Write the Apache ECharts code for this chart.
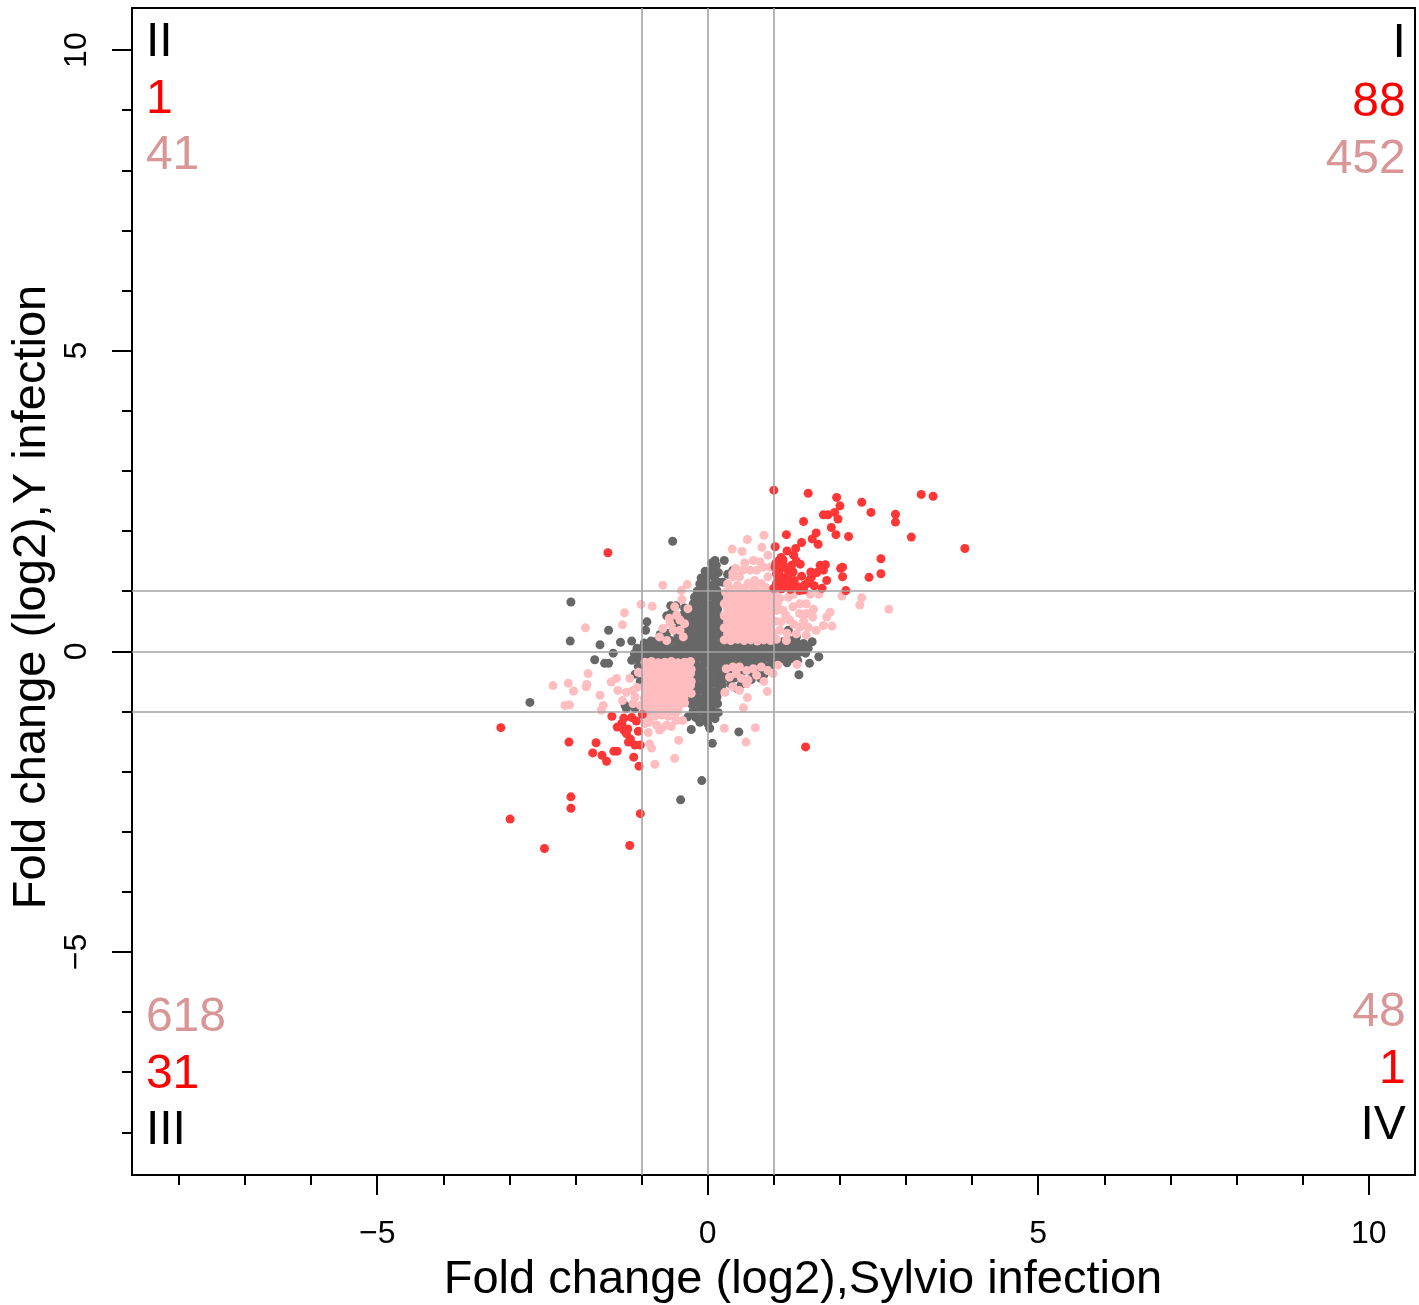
<!DOCTYPE html>
<html>
<head>
<meta charset="utf-8">
<script src="https://cdn.jsdelivr.net/npm/echarts@6/dist/echarts.min.js"></script>
<style>
html,body{margin:0;padding:0;background:#fff}
#chart{width:1419px;height:1305px}
</style>
</head>
<body>
<div id="chart"></div>
<script>
// Axis ranges and ticks (log2 fold change)
const xRange = [-8.71, 10.70];
const yRange = [-8.71, 10.70];
const xMajorTicks = [-5, 0, 5, 10];
const yMajorTicks = [-5, 0, 5, 10];
const xMinorTicks = [-8,-7,-6,-5,-4,-3,-2,-1,0,1,2,3,4,5,6,7,8,9,10];
const yMinorTicks = [-8,-7,-6,-5,-4,-3,-2,-1,0,1,2,3,4,5,6,7,8,9,10];
const cutoffs = [-1, 0, 1];

const xTitle = 'Fold change (log2),Sylvio infection';
const yTitle = 'Fold change (log2),Y infection';

// Genes that are not significant in either infection
const grayPoints = [
  [0.06,1.47],[0.13,1.43],
  [-0.04,1.33],[0.07,1.36],[0.16,1.31],
  [-0.1,1.22],[0.0,1.25],[0.1,1.23],
  [-0.12,1.12],[-0.02,1.14],[0.08,1.11],[0.17,1.15],
  [-0.16,1.0],[-0.06,1.03],[0.04,1.02],[0.14,1.01],
  [-0.2,0.9],[-0.1,0.92],[0.0,0.91],[0.1,0.9],[0.19,0.93],
  [-0.22,0.79],[-0.12,0.81],[-0.02,0.8],[0.08,0.79],[0.18,0.81],
  [-0.25,0.68],[-0.15,0.7],[-0.05,0.69],[0.05,0.68],[0.15,0.7],
  [-0.28,0.57],[-0.18,0.59],[-0.08,0.58],[0.02,0.57],[0.12,0.59],[0.2,0.56],
  [-0.32,0.46],[-0.22,0.48],[-0.12,0.47],[-0.02,0.46],[0.08,0.48],[0.18,0.47],
  [-0.38,0.35],[-0.28,0.37],[-0.18,0.36],[-0.08,0.35],[0.02,0.37],[0.12,0.36],[0.21,0.34],
  [-0.45,0.26],[-0.35,0.27],[-0.25,0.25],[-0.15,0.24],[-0.05,0.26],[0.05,0.25],[0.15,0.24],[0.24,0.26],
  [-0.96,0.14],[-0.86,0.17],[-0.76,0.18],[-0.66,0.16],[-0.56,0.18],[-0.46,0.17],[-0.36,0.16],[-0.26,0.18],[-0.16,0.16],[-0.06,0.17],[0.04,0.16],[0.14,0.18],[0.24,0.16],[0.34,0.15],[0.44,0.16],[0.54,0.15],[0.64,0.16],[0.74,0.15],[0.84,0.16],[0.94,0.15],[1.04,0.17],[1.14,0.16],[1.24,0.18],[1.34,0.16],[1.45,0.13],
  [-1.07,0.05],[-0.98,0.07],[-0.88,0.08],[-0.78,0.06],[-0.68,0.08],[-0.58,0.07],[-0.48,0.06],[-0.38,0.08],[-0.28,0.07],[-0.18,0.06],[-0.08,0.08],[0.02,0.07],[0.12,0.06],[0.22,0.08],[0.32,0.07],[0.42,0.06],[0.52,0.08],[0.62,0.07],[0.72,0.06],[0.82,0.08],[0.92,0.07],[1.02,0.06],[1.12,0.08],[1.22,0.07],[1.32,0.06],[1.42,0.08],[1.52,0.05],
  [-1.11,-0.04],[-1.02,-0.02],[-0.92,-0.03],[-0.82,-0.01],[-0.72,-0.03],[-0.62,-0.02],[-0.52,-0.04],[-0.42,-0.02],[-0.32,-0.03],[-0.22,-0.01],[-0.12,-0.03],[-0.02,-0.02],[0.08,-0.04],[0.18,-0.02],[0.28,-0.03],[0.38,-0.01],[0.48,-0.03],[0.58,-0.02],[0.68,-0.04],[0.78,-0.02],[0.88,-0.03],[0.98,-0.01],[1.08,-0.03],[1.18,-0.02],[1.28,-0.04],[1.38,-0.02],[1.48,-0.03],
  [-1.04,-0.14],[-0.94,-0.12],[-0.84,-0.13],[-0.74,-0.11],[-0.64,-0.13],[-0.54,-0.12],[-0.44,-0.14],[-0.34,-0.12],[-0.24,-0.13],[-0.14,-0.11],[-0.04,-0.13],[0.06,-0.12],[0.16,-0.14],[0.26,-0.12],[0.36,-0.13],[0.46,-0.11],[0.56,-0.13],[0.66,-0.12],[0.76,-0.14],[0.86,-0.12],[0.96,-0.13],[1.06,-0.11],[1.16,-0.13],[1.26,-0.12],[1.36,-0.15],
  [-0.27,-0.22],[-0.17,-0.24],[-0.07,-0.23],[0.03,-0.22],[0.13,-0.24],[0.23,-0.23],[0.33,-0.22],[0.43,-0.24],[0.53,-0.23],[0.63,-0.22],[0.73,-0.24],[0.83,-0.23],[0.93,-0.25],[1.03,-0.2],
  [-0.26,-0.33],[-0.16,-0.32],[-0.06,-0.34],[0.04,-0.33],[0.14,-0.32],[0.24,-0.34],
  [-0.25,-0.44],[-0.15,-0.43],[-0.05,-0.45],[0.05,-0.44],[0.15,-0.43],[0.23,-0.45],
  [-0.26,-0.55],[-0.16,-0.54],[-0.06,-0.56],[0.04,-0.55],[0.14,-0.54],[0.22,-0.56],
  [-0.25,-0.66],[-0.15,-0.65],[-0.05,-0.67],[0.05,-0.66],[0.15,-0.65],
  [-0.26,-0.77],[-0.16,-0.76],[-0.06,-0.78],[0.04,-0.77],[0.14,-0.76],
  [-0.24,-0.88],[-0.14,-0.87],[-0.04,-0.89],[0.06,-0.88],[0.15,-0.87],
  [-0.22,-0.99],[-0.12,-0.98],[-0.02,-1.0],[0.08,-0.99],[0.16,-1.02],
  [-0.3,-1.09],[-0.18,-1.1],[-0.08,-1.11],[0.02,-1.1],[0.11,-1.12],
  [-0.12,-1.18],[0.0,-1.2],
  [0.33,-0.33],[0.43,-0.32],[0.53,-0.34],[0.63,-0.33],[0.73,-0.32],[0.83,-0.3],[0.93,-0.28],
  [0.31,-0.45],[0.41,-0.44],[0.51,-0.55],[0.35,-0.55],[0.66,-0.47],[0.8,-0.45],[0.45,-0.62],
  [-0.42,0.42],[-0.52,0.36],[-0.47,0.52],[-0.38,0.6],[-0.56,0.62],[-0.48,0.76],[-0.35,0.72],[-0.62,0.3],[-0.72,0.28],[-0.3,0.48],
  [-1.15,-0.15],[-1.05,-0.25],[-1.1,-0.38],[-1.02,-0.5],[-1.25,-0.9],[-1.1,-0.95],
  [-0.53,1.83],[-2.07,0.82],[-2.08,0.17],[-1.5,0.35],[-1.63,0.11],[-1.71,-0.14],[-1.56,-0.2],[-1.5,-0.2],
  [-1.43,-0.03],[-1.32,0.15],[-1.15,0.17],[-0.92,0.49],[-0.94,0.35],[-0.56,0.76],[-0.62,0.59],[-0.55,0.52],
  [0.25,1.51],[0.11,1.51],[0.08,1.35],[0.38,1.35],[0.3,1.28],[-0.08,1.15],[0.23,1.15],
  [-2.69,-0.85],[-0.25,-1.3],[0.07,-1.53],[-0.09,-2.15],[-0.41,-2.47],[0.47,-1.34],[0.03,-1.28],[-1.23,-0.95],
  [0.85,-0.39],[1.54,-0.2],[1.68,-0.09],[1.38,-0.39],[1.58,0.16],[1.41,0.0],[1.25,0.07],[1.2,-0.19],
  [1.14,-0.12],[0.84,-0.37],[1.34,0.24],[1.22,0.35],[1.11,-0.12],[1.27,-0.04],[0.94,-0.26]
];

// Genes significant in one infection only
const pinkPoints = [
  [0.25,0.19],[0.35,0.18],[0.45,0.2],[0.55,0.18],[0.65,0.19],[0.75,0.17],[0.85,0.19],[0.95,0.18],
  [0.3,0.29],[0.4,0.3],[0.5,0.28],[0.6,0.29],[0.7,0.3],[0.8,0.28],[0.9,0.29],[0.98,0.3],
  [0.25,0.39],[0.35,0.38],[0.45,0.4],[0.55,0.39],[0.65,0.38],[0.75,0.4],[0.85,0.39],[0.95,0.38],
  [0.3,0.49],[0.4,0.5],[0.5,0.48],[0.6,0.49],[0.7,0.5],[0.8,0.48],[0.9,0.49],[0.98,0.5],
  [0.25,0.59],[0.35,0.58],[0.45,0.6],[0.55,0.59],[0.65,0.58],[0.75,0.6],[0.85,0.59],[0.95,0.58],
  [0.3,0.69],[0.4,0.7],[0.5,0.68],[0.6,0.69],[0.7,0.7],[0.8,0.68],[0.9,0.69],[0.98,0.7],
  [0.25,0.79],[0.35,0.78],[0.45,0.8],[0.55,0.79],[0.65,0.78],[0.75,0.8],[0.85,0.79],[0.95,0.78],
  [0.3,0.89],[0.4,0.9],[0.5,0.88],[0.6,0.89],[0.7,0.9],[0.8,0.88],[0.9,0.89],[0.98,0.9],
  [0.27,0.98],[0.36,0.97],[0.46,0.99],[0.56,0.98],[0.66,0.97],[0.76,0.99],[0.86,0.98],[0.95,0.97],
  [0.85,1.93],[0.6,1.86],[0.37,1.7],[0.52,1.66],[0.82,1.73],[0.91,1.6],[0.56,1.47],[0.69,1.51],
  [0.79,1.49],[0.42,1.38],[0.48,1.24],[0.38,1.24],[0.53,1.35],[0.64,1.35],[0.74,1.35],[0.84,1.4],
  [0.71,1.18],[0.61,1.13],[0.81,1.13],[0.91,1.24],[0.94,1.4],[0.38,1.3],[0.45,1.1],[0.3,1.12],
  [0.55,1.05],[0.7,1.06],[0.88,1.06],[0.33,1.05],
  [1.09,0.88],[1.22,0.9],[1.14,0.68],[1.29,0.74],[1.39,0.63],[1.49,0.79],[1.59,0.57],[1.52,0.4],
  [1.64,0.35],[1.75,0.43],[1.85,0.65],[1.88,0.42],[1.8,0.57],[1.68,0.95],[2.03,0.92],[2.3,0.77],
  [2.33,0.89],[2.74,0.7],[1.39,0.4],[1.24,0.52],[1.11,0.49],[1.34,0.29],[1.49,0.27],[1.19,0.18],
  [1.09,0.35],[1.04,0.68],[1.06,0.79],[1.39,0.79],[1.49,0.63],[1.04,0.2],[1.02,0.5],[1.18,0.6],
  [1.3,0.45],[1.45,0.5],[1.6,0.7],[1.3,0.95],[1.55,0.95],[1.2,0.3],[1.04,0.97],
  [0.28,-0.29],[0.38,-0.26],[0.48,-0.26],[0.59,-0.32],[0.69,-0.29],[0.81,-0.26],[0.91,-0.32],[1.06,-0.23],
  [1.35,-0.22],[0.33,-0.43],[0.43,-0.37],[0.51,-0.45],[0.61,-0.48],[0.74,-0.4],[0.99,-0.37],[0.38,-0.59],
  [0.48,-0.65],[0.59,-0.54],[0.26,-0.68],[0.9,-0.67],[0.6,-0.77],[0.54,-0.94],[0.25,-1.28],[0.72,-1.27],
  [0.58,-1.51],[0.85,-0.5],
  [-0.68,1.1],[-0.31,1.11],[-0.4,1.01],[-0.39,0.86],[-0.3,0.71],[-1.01,0.78],[-0.84,0.75],[-1.26,0.64],
  [-1.29,0.44],[-1.85,0.39],[-0.5,0.74],[-0.47,0.6],[-0.57,0.46],[-0.52,0.35],[-0.42,0.35],[-0.37,0.24],
  [-0.68,0.38],[-0.73,0.24],[-0.62,0.18],[-0.42,0.52],[-0.35,0.46],[-0.58,0.55],
  [-0.95,-0.18],[-0.85,-0.17],[-0.75,-0.19],[-0.65,-0.18],[-0.55,-0.17],[-0.45,-0.19],[-0.35,-0.18],[-0.26,-0.17],
  [-0.92,-0.28],[-0.82,-0.27],[-0.72,-0.29],[-0.62,-0.28],[-0.52,-0.27],[-0.42,-0.29],[-0.32,-0.28],[-0.25,-0.3],
  [-0.96,-0.38],[-0.86,-0.37],[-0.76,-0.39],[-0.66,-0.38],[-0.56,-0.37],[-0.46,-0.39],[-0.36,-0.38],[-0.26,-0.37],
  [-0.92,-0.48],[-0.82,-0.47],[-0.72,-0.49],[-0.62,-0.48],[-0.52,-0.47],[-0.42,-0.49],[-0.32,-0.48],[-0.25,-0.5],
  [-0.96,-0.58],[-0.86,-0.57],[-0.76,-0.59],[-0.66,-0.58],[-0.56,-0.57],[-0.46,-0.59],[-0.36,-0.58],[-0.26,-0.57],
  [-0.92,-0.68],[-0.82,-0.67],[-0.72,-0.69],[-0.62,-0.68],[-0.52,-0.67],[-0.42,-0.69],[-0.32,-0.68],[-0.25,-0.7],
  [-0.96,-0.78],[-0.86,-0.77],[-0.76,-0.79],[-0.66,-0.78],[-0.56,-0.77],[-0.46,-0.79],[-0.36,-0.78],
  [-0.92,-0.88],[-0.82,-0.87],[-0.72,-0.89],[-0.62,-0.88],[-0.52,-0.87],[-0.42,-0.89],[-0.35,-0.86],
  [-0.95,-0.98],[-0.85,-0.97],[-0.75,-0.99],[-0.65,-0.98],[-0.55,-0.97],[-0.45,-0.99],
  [-0.9,-1.07],[-0.8,-1.08],[-0.7,-1.06],[-0.6,-1.08],[-0.5,-1.07],
  [-2.34,-0.57],[-2.11,-0.53],[-2.03,-0.66],[-2.16,-0.9],[-2.09,-0.89],[-1.81,-0.37],[-1.84,-0.59],[-1.83,-0.55],
  [-1.63,-0.73],[-1.58,-0.9],[-1.61,-0.98],[-1.46,-0.51],[-1.38,-0.45],[-1.36,-0.65],[-1.29,-0.82],[-1.18,-0.45],
  [-1.13,-0.65],[-1.1,-0.76],[-1.13,-0.87],[-1.23,-0.68],[-1.05,-0.35],[-1.07,-0.6],[-1.02,-0.9],
  [-0.88,-1.18],[-0.77,-1.23],[-0.7,-1.28],[-0.62,-1.23],[-0.55,-1.25],[-0.73,-1.31],[-0.44,-1.48],[-0.5,-1.78],
  [-0.8,-1.88],[-0.88,-1.54],[-0.85,-1.61],[-0.95,-1.2],[-0.38,-1.15],[-0.48,-1.15],[-0.9,-1.35]
];

// Genes significant in both infections
const redPoints = [
  [1.0,2.68],[1.52,2.63],[1.95,2.56],[2.0,2.42],[2.33,2.48],[2.47,2.31],[2.84,2.28],[2.84,2.15],
  [3.23,2.61],[3.41,2.58],[3.89,1.71],[3.08,1.9],[2.62,1.54],[2.62,1.29],[2.44,1.23],[2.13,1.91],
  [1.94,1.94],[1.87,2.06],[1.97,2.2],[1.92,2.31],[1.82,2.27],[1.75,2.27],[1.45,2.16],[1.64,1.97],
  [1.58,1.87],[1.67,1.78],[1.42,1.81],[1.19,1.94],[1.33,1.71],[1.2,1.67],[1.02,1.74],[1.11,1.56],
  [1.08,1.51],[1.34,1.5],[1.4,1.45],[1.2,1.37],[1.29,1.32],[1.04,1.29],[1.1,1.24],[1.56,1.32],
  [1.57,1.24],[1.7,1.43],[1.78,1.44],[1.75,1.35],[2.01,1.38],[2.04,1.24],[1.8,1.18],[1.51,1.13],
  [1.61,1.09],[1.73,1.05],[2.09,1.01],[1.39,1.01],[1.24,1.1],[1.14,1.1],[1.04,1.13],[1.03,1.46],
  [1.65,1.31],[1.54,1.18],[2.04,1.4],
  [1.0,1.05],[1.06,1.17],[1.12,1.04],[1.18,1.2],[1.25,1.03],[1.31,1.18],[1.08,1.33],[1.15,1.42],
  [1.22,1.27],[1.35,1.08],[1.02,1.4],[1.27,1.43],[1.42,1.25],[1.46,1.1],[1.14,1.52],[1.3,1.6],
  [1.45,1.02],[1.18,1.08],
  [-1.51,1.64],
  [-3.13,-1.27],[-2.1,-1.51],[-1.69,-1.52],[-1.74,-1.69],[-1.6,-1.73],[-1.53,-1.83],[-1.42,-1.66],[-1.37,-1.66],
  [-1.12,-1.76],[-1.04,-1.91],[-2.07,-2.42],[-2.07,-2.61],[-2.99,-2.79],[-2.47,-3.28],[-1.18,-3.23],[-1.02,-2.7],
  [-1.45,-1.08],[-1.27,-1.11],[-1.15,-1.1],[-1.08,-1.16],[-1.37,-1.26],[-1.27,-1.31],[-1.21,-1.29],[-1.23,-1.37],
  [-1.05,-1.33],[-1.17,-1.46],[-1.2,-1.51],[-1.1,-1.56],[-1.02,-1.56],[-0.99,-1.05],[-1.3,-1.2],
  [1.48,-1.59]
];

// Quadrant names and gene counts
const quadrantLabels = [
  {text:'II',  x:-8.50, y:10.13, align:'left',  color:'#000000'},
  {text:'1',   x:-8.50, y:9.18,  align:'left',  color:'#ff0000'},
  {text:'41',  x:-8.50, y:8.24,  align:'left',  color:'#d99696'},
  {text:'I',   x:10.56, y:10.10, align:'right', color:'#000000'},
  {text:'88',  x:10.56, y:9.13,  align:'right', color:'#ff0000'},
  {text:'452', x:10.56, y:8.18,  align:'right', color:'#d99696'},
  {text:'618', x:-8.50, y:-6.10, align:'left',  color:'#d99696'},
  {text:'31',  x:-8.50, y:-7.05, align:'left',  color:'#ff0000'},
  {text:'III', x:-8.50, y:-7.97, align:'left',  color:'#000000'},
  {text:'48',  x:10.56, y:-6.01, align:'right', color:'#d99696'},
  {text:'1',   x:10.56, y:-6.96, align:'right', color:'#ff0000'},
  {text:'IV',  x:10.56, y:-7.89, align:'right', color:'#000000'}
];

const FONT = '"Liberation Sans", Arial, Helvetica, sans-serif';
const fmt = v => (v < 0 ? '\u2212' + Math.abs(v) : String(v));

const chart = echarts.init(document.getElementById('chart'), null, {renderer: 'canvas'});

function axisPair(kind, range, major, minor) {
  const base = {
    type: 'value', min: range[0], max: range[1],
    splitLine: {show: false},
    axisLine: {show: false, onZero: false}
  };
  const majorAxis = Object.assign({}, base, {
    axisTick: {show: true, inside: false, length: 20, customValues: major,
               lineStyle: {color: '#000', width: 2}},
    axisLabel: {show: true, customValues: major, formatter: fmt,
                fontFamily: FONT, fontSize: 32, color: '#000',
                margin: kind === 'x' ? 43 : 39, rotate: kind === 'x' ? 0 : 90}
  });
  const minorAxis = Object.assign({}, base, {
    axisTick: {show: true, inside: false, length: 10, customValues: minor,
               lineStyle: {color: '#000', width: 2}},
    axisLabel: {show: false}
  });
  return [majorAxis, minorAxis];
}

const point = (data, color, z) => ({
  type: 'scatter', data: data, symbol: 'circle', symbolSize: 9,
  itemStyle: {color: color, opacity: 1}, z: z, silent: true, animation: false
});

chart.setOption({
  animation: false,
  backgroundColor: '#ffffff',
  grid: {left: 132, right: 4, top: 8, bottom: 130, show: true,
         borderColor: '#000', borderWidth: 2, backgroundColor: 'transparent'},
  xAxis: axisPair('x', xRange, xMajorTicks, xMinorTicks).map(a => Object.assign(a, {position: 'bottom'})),
  yAxis: axisPair('y', yRange, yMajorTicks, yMinorTicks).map(a => Object.assign(a, {position: 'left'})),
  series: [
    point(grayPoints, '#676767', 2),
    point(pinkPoints, '#ffbdbf', 3),
    point(redPoints, '#ff3636', 4),
    {
      type: 'line', data: [], z: 6, silent: true,
      markLine: {
        silent: true, symbol: ['none', 'none'], animation: false,
        label: {show: false},
        lineStyle: {color: '#a3a3a3', width: 1.6, type: 'solid'},
        data: cutoffs.map(v => ({xAxis: v})).concat(cutoffs.map(v => ({yAxis: v})))
      }
    },
    {
      type: 'scatter', symbolSize: 0, z: 7, silent: true,
      itemStyle: {opacity: 1},
      data: quadrantLabels.map(q => ({
        value: [q.x, q.y],
        itemStyle: {opacity: 1},
        label: {show: true, formatter: q.text, position: 'inside', align: q.align,
                verticalAlign: 'middle', color: q.color, opacity: 1,
                fontSize: 48, fontFamily: FONT}
      }))
    }
  ],
  graphic: [
    {type: 'text', x: 803, y: 1280, silent: true,
     style: {text: xTitle, font: '47px ' + FONT, fill: '#000',
             textAlign: 'center', textVerticalAlign: 'middle'}},
    {type: 'text', x: 32, y: 597, rotation: Math.PI / 2, silent: true,
     style: {text: yTitle, font: '47px ' + FONT, fill: '#000',
             textAlign: 'center', textVerticalAlign: 'middle'}}
  ]
});
</script>
</body>
</html>
